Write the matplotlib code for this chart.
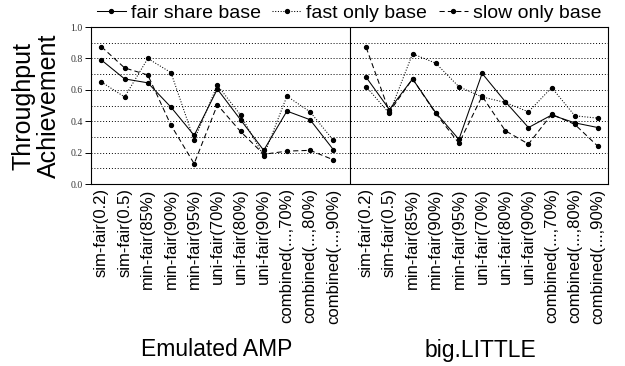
import matplotlib.pyplot as plt
import numpy as np

plt.rcParams['font.family'] = ['Liberation Sans', 'DejaVu Sans']

# categories (same for both platforms)
configs = ["sim-fair(0.2)", "sim-fair(0.5)", "min-fair(85%)", "min-fair(90%)",
           "min-fair(95%)", "uni-fair(70%)", "uni-fair(80%)", "uni-fair(90%)",
           "combined(...,70%)", "combined(...,80%)", "combined(...,90%)"]
groups = ["Emulated AMP", "big.LITTLE"]

# Emulated AMP
amp_fair = [0.79, 0.67, 0.645, 0.49, 0.31, 0.605, 0.41, 0.215, 0.465, 0.41, 0.22]
amp_fast = [0.65, 0.555, 0.80, 0.71, 0.28, 0.63, 0.44, 0.18, 0.56, 0.46, 0.28]
amp_slow = [0.875, 0.74, 0.695, 0.375, 0.13, 0.505, 0.335, 0.19, 0.21, 0.215, 0.155]

# big.LITTLE
bl_fair = [0.68, 0.475, 0.67, 0.455, 0.285, 0.705, 0.525, 0.36, 0.44, 0.39, 0.36]
bl_fast = [0.62, 0.45, 0.83, 0.77, 0.62, 0.555, 0.52, 0.46, 0.615, 0.435, 0.42]
bl_slow = [0.87, 0.46, 0.67, 0.45, 0.26, 0.56, 0.34, 0.255, 0.445, 0.38, 0.24]

x_left = np.arange(len(configs))
x_right = x_left + 11.42

fig = plt.figure(figsize=(6.25, 3.66), dpi=100)
ax = fig.add_axes([0.1456, 0.497, 0.8272, 0.429])

styles = [("fair share base", "-", amp_fair, bl_fair),
          ("fast only base", (0, (1, 1.6)), amp_fast, bl_fast),
          ("slow only base", (0, (5, 3)), amp_slow, bl_slow)]

for name, ls, left, right in styles:
    ax.plot(x_left, left, color="black", ls=ls, lw=0.75, marker="o", ms=2.8, label=name)
    ax.plot(x_right, right, color="black", ls=ls, lw=0.75, marker="o", ms=2.8)

# divider between the two platforms
ax.axvline(10.71, color="black", lw=0.8)

for yv in np.arange(0.1, 1.0, 0.1):
    ax.axhline(yv, color="black", ls=(0, (1, 2)), lw=0.7, zorder=0)

ax.set_ylim(0, 1.0)
ax.set_xlim(-0.45, 21.85)
ax.set_yticks([0.0, 0.2, 0.4, 0.6, 0.8, 1.0])
ax.set_yticklabels(["0.0", "0.2", "0.4", "0.6", "0.8", "1.0"],
                   family="Liberation Serif", fontsize=7, color="#333333")
ax.tick_params(axis="y", direction="out", length=4, width=0.7, pad=2)
ax.set_xticks(list(x_left) + list(x_right))
ax.set_xticklabels(configs + configs, rotation=90, fontsize=12)
ax.tick_params(axis="x", length=0, pad=3)
for s in ax.spines.values():
    s.set_linewidth(0.8)

ax.set_ylabel("Throughput\nAchievement", fontsize=18, linespacing=1.05, labelpad=7)

fig.text(217 / 625, 1 - 350 / 366, groups[0], fontsize=16.5, ha="center", va="center")
fig.text(480 / 625, 1 - 350 / 366, groups[1], fontsize=16.5, ha="center", va="center")

fig.legend(loc="center", bbox_to_anchor=(349 / 625, 1 - 13 / 366), ncol=3,
           frameon=False, fontsize=14, handlelength=1.5, handletextpad=0.25,
           columnspacing=0.6, borderaxespad=0, borderpad=0)

fig.savefig("out.png", dpi=100)
